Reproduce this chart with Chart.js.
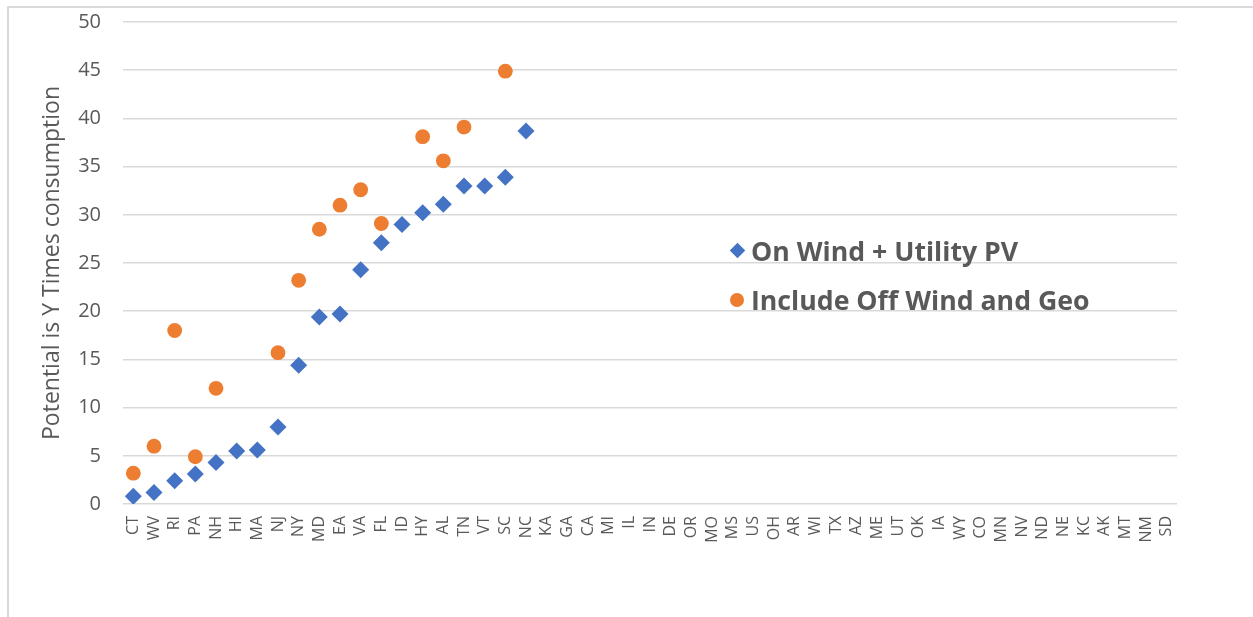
<!DOCTYPE html>
<html>
<head>
<meta charset="utf-8">
<script src="https://cdn.jsdelivr.net/npm/chart.js@4/dist/chart.umd.min.js"></script>
<style>
  html, body { margin: 0; padding: 0; background: #fff; overflow: hidden; }
  #wrap { position: relative; width: 1253px; height: 617px; }
  #frame { position: absolute; left: 7px; top: 6px; width: 1400px; height: 800px;
           border-left: 2px solid #d9d9d9; border-top: 2px solid #d9d9d9; }
  #c { position: absolute; left: 0; top: 0; }
  #legend { position: absolute; left: 728px; top: 226px; font-family: 'Open Sans', sans-serif;
            font-weight: bold; font-size: 26.7px; color: #595959; }
  .lg-row { display: flex; align-items: center; height: 49px; }
  .lg-mk { width: 18px; height: 18px; margin-right: 5px; display: flex; align-items: center; justify-content: center; }
</style>
</head>
<body>
<div id="wrap">
  <div id="frame"></div>
  <canvas id="c" width="1253" height="617"></canvas>
  <div id="legend"></div>
</div>
<script>
// ── Datos ────────────────────────────────────────────────────
const STATES = ['CT', 'WV', 'RI', 'PA', 'NH', 'HI', 'MA', 'NJ', 'NY', 'MD', 'EA', 'VA', 'FL', 'ID', 'HY', 'AL', 'TN', 'VT', 'SC', 'NC',
  'KA', 'GA', 'CA', 'MI', 'IL', 'IN', 'DE', 'OR', 'MO', 'MS', 'US', 'OH', 'AR', 'WI', 'TX', 'AZ', 'ME', 'UT', 'OK', 'IA',
  'WY', 'CO', 'MN', 'NV', 'ND', 'NE', 'KC', 'AK', 'MT', 'NM', 'SD'];

// On Wind + Utility PV (solo los primeros 20 estados tienen valor)
const ON_WIND_PV = [0.8, 1.2, 2.4, 3.1, 4.3, 5.5, 5.6, 8.0, 14.4, 19.4, 19.7, 24.3, 27.1, 29.0, 30.2, 31.1, 33.0, 33.0, 33.9, 38.7];
// Include Off Wind and Geo (null = sin punto)
const OFF_WIND_GEO = [3.2, 6.0, 18.0, 4.9, 12.0, null, null, 15.7, 23.2, 28.5, 31.0, 32.6, 29.1, null, 38.1, 35.6, 39.1, null, 44.9, null];

const Y_MIN = 0, Y_MAX = 50, Y_STEP = 5;
const Y_TITLE = 'Potential is Y Times consumption';

const BLUE = '#4472c4', ORANGE = '#ed7d31', TXT = '#595959', GRID = '#d9d9d9';
const FONT = '"Open Sans", sans-serif';

const pad = (arr) => STATES.map((_, i) => (i < arr.length ? arr[i] : null));

const datasets = [
  {
    label: 'On Wind + Utility PV', data: pad(ON_WIND_PV),
    pointStyle: 'rectRot', pointRadius: 8.5, pointHoverRadius: 8.5,
    backgroundColor: BLUE, borderColor: BLUE, pointBorderWidth: 0, showLine: false
  },
  {
    label: 'Include Off Wind and Geo', data: pad(OFF_WIND_GEO),
    pointStyle: 'circle', pointRadius: 7.4, pointHoverRadius: 7.4,
    backgroundColor: ORANGE, borderColor: ORANGE, pointBorderWidth: 0, showLine: false
  }
];

new Chart(document.getElementById('c').getContext('2d'), {
  type: 'line',
  data: { labels: STATES, datasets },
  options: {
    responsive: false, animation: false,
    layout: { padding: { left: 0, right: 76, top: 22, bottom: 0 } },
    plugins: { legend: { display: false }, tooltip: { enabled: false } },
    scales: {
      x: {
        offset: true,
        grid: { display: false, drawTicks: false },
        border: { display: false },
        ticks: {
          color: TXT, font: { family: FONT, size: 16 }, autoSkip: false,
          minRotation: 90, maxRotation: 90, padding: 12
        },
        afterFit: s => { s.height = 113; }
      },
      y: {
        min: Y_MIN, max: Y_MAX,
        grid: { color: GRID, lineWidth: 1.5, drawTicks: false },
        border: { display: false },
        ticks: { stepSize: Y_STEP, color: TXT, font: { family: FONT, size: 20 }, padding: 22 },
        title: { display: true, text: Y_TITLE, color: TXT, font: { family: FONT, size: 23 }, padding: { top: 39, bottom: 0 } },
        // el padding de los ticks empuja el área hacia abajo; lo anulamos
        afterFit: s => { s.width = 123; s.paddingTop = 0; s.paddingBottom = 0; }
      }
    }
  }
});

// Leyenda HTML dentro del área del gráfico
document.getElementById('legend').innerHTML = datasets.map(d => {
  const mk = d.pointStyle === 'rectRot'
    ? `<span style="width:11px;height:11px;background:${d.backgroundColor};transform:rotate(45deg)"></span>`
    : `<span style="width:14px;height:14px;border-radius:50%;background:${d.backgroundColor}"></span>`;
  return `<div class="lg-row"><span class="lg-mk">${mk}</span>${d.label}</div>`;
}).join('');
</script>
</body>
</html>
